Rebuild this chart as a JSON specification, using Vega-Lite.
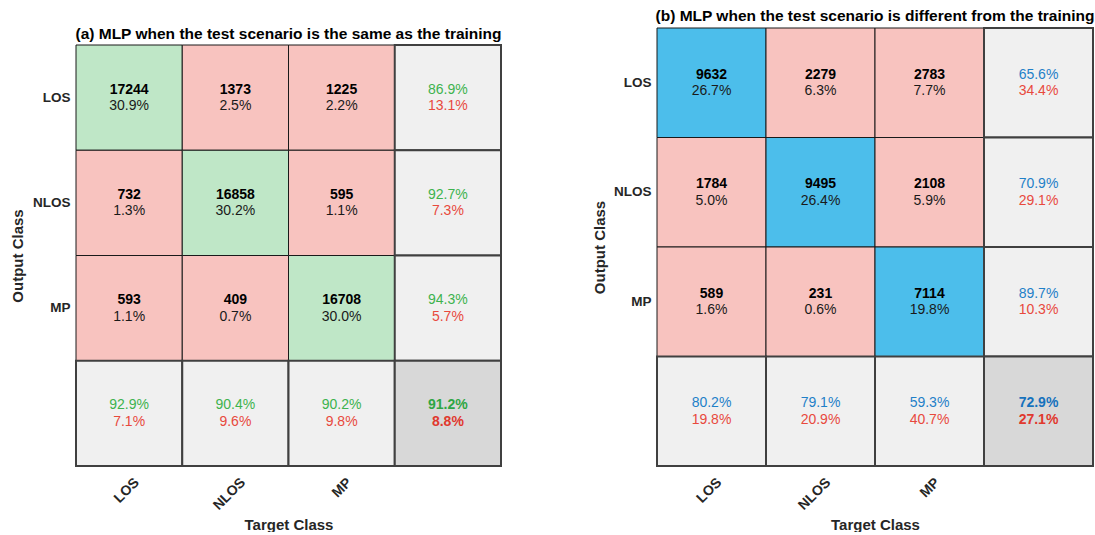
{
  "$schema": "https://vega.github.io/schema/vega-lite/v6.json",
  "padding": {"left": 10, "top": 8, "right": 0, "bottom": 0},
  "autosize": {"type": "pad"},
  "spacing": 156,
  "bounds": "flush",
  "resolve": {"scale": {"fill": "independent"}},
  "config": {
    "view": {"stroke": null},
    "font": "Liberation Sans",
    "axis": {"labelFont": "Liberation Sans", "titleFont": "Liberation Sans"},
    "title": {"font": "Liberation Sans"}
  },
  "hconcat": [
    {
      "width": 425,
      "height": 438,
      "title": {"text": "(a) MLP when the test scenario is the same as the training", "fontSize": 15.5, "fontWeight": "bold", "anchor": "middle", "offset": 3, "dy": 17, "color": "#000000"},
      "data": {"values": [
        {"row": "LOS", "col": "LOS", "kind": "correct", "line1": "17244", "line2": "30.9%"},
        {"row": "LOS", "col": "NLOS", "kind": "error", "line1": "1373", "line2": "2.5%"},
        {"row": "LOS", "col": "MP", "kind": "error", "line1": "1225", "line2": "2.2%"},
        {"row": "LOS", "col": "All", "kind": "summary", "line1": "86.9%", "line2": "13.1%"},
        {"row": "NLOS", "col": "LOS", "kind": "error", "line1": "732", "line2": "1.3%"},
        {"row": "NLOS", "col": "NLOS", "kind": "correct", "line1": "16858", "line2": "30.2%"},
        {"row": "NLOS", "col": "MP", "kind": "error", "line1": "595", "line2": "1.1%"},
        {"row": "NLOS", "col": "All", "kind": "summary", "line1": "92.7%", "line2": "7.3%"},
        {"row": "MP", "col": "LOS", "kind": "error", "line1": "593", "line2": "1.1%"},
        {"row": "MP", "col": "NLOS", "kind": "error", "line1": "409", "line2": "0.7%"},
        {"row": "MP", "col": "MP", "kind": "correct", "line1": "16708", "line2": "30.0%"},
        {"row": "MP", "col": "All", "kind": "summary", "line1": "94.3%", "line2": "5.7%"},
        {"row": "All", "col": "LOS", "kind": "summary", "line1": "92.9%", "line2": "7.1%"},
        {"row": "All", "col": "NLOS", "kind": "summary", "line1": "90.4%", "line2": "9.6%"},
        {"row": "All", "col": "MP", "kind": "summary", "line1": "90.2%", "line2": "9.8%"},
        {"row": "All", "col": "All", "kind": "total", "line1": "91.2%", "line2": "8.8%"}
      ]},
      "encoding": {
        "x": {"field": "col", "type": "nominal", "sort": ["LOS", "NLOS", "MP", "All"],
              "scale": {"paddingInner": 0, "paddingOuter": 0},
              "axis": {"title": "Target Class", "titleFontSize": 15, "titleFontWeight": "bold", "titleColor": "#262626", "titleY": 51,
                       "labelAngle": -45, "labelFontSize": 14, "labelFontWeight": "bold", "labelColor": "#262626", "labelPadding": 9, "labelOffset": 3,
                       "domain": false, "ticks": false, "labelExpr": "datum.value == 'All' ? '' : datum.value"}},
        "y": {"field": "row", "type": "nominal", "sort": ["LOS", "NLOS", "MP", "All"],
              "scale": {"paddingInner": 0, "paddingOuter": 0.0808, "align": 1},
              "axis": {"title": "Output Class", "titleFontSize": 15, "titleFontWeight": "bold", "titleColor": "#262626", "titleX": -51, "titleY": 227.5,
                       "labelFontSize": 13.5, "labelFontWeight": "bold", "labelColor": "#262626", "labelPadding": 6,
                       "domain": false, "ticks": false, "labelExpr": "datum.value == 'All' ? '' : datum.value"}}
      },
      "layer": [
        {"transform": [{"filter": "datum.kind == 'correct' || datum.kind == 'error'"}],
         "mark": {"type": "rect", "stroke": "#1a1a1a", "strokeWidth": 1},
         "encoding": {"fill": {"field": "kind", "type": "nominal", "legend": null,
                      "scale": {"domain": ["correct", "error", "summary", "total"], "range": ["#BFE7C7", "#F8C3BF", "#F0F0F0", "#D8D8D8"]}}}},
        {"transform": [{"filter": "datum.kind == 'summary' || datum.kind == 'total'"}],
         "mark": {"type": "rect", "stroke": "#404040", "strokeWidth": 2},
         "encoding": {"fill": {"field": "kind", "type": "nominal", "legend": null,
                      "scale": {"domain": ["correct", "error", "summary", "total"], "range": ["#BFE7C7", "#F8C3BF", "#F0F0F0", "#D8D8D8"]}}}},
        {"transform": [{"filter": "datum.kind == 'correct' || datum.kind == 'error'"}],
         "mark": {"type": "text", "fontSize": 14, "fontWeight": "bold", "color": "#000000", "dy": -8},
         "encoding": {"text": {"field": "line1"}}},
        {"transform": [{"filter": "datum.kind == 'correct' || datum.kind == 'error'"}],
         "mark": {"type": "text", "fontSize": 14, "color": "#1a1a1a", "dy": 8.5},
         "encoding": {"text": {"field": "line2"}}},
        {"transform": [{"filter": "datum.kind == 'summary'"}],
         "mark": {"type": "text", "fontSize": 14, "color": "#3DB34E", "dy": -8},
         "encoding": {"text": {"field": "line1"}}},
        {"transform": [{"filter": "datum.kind == 'summary'"}],
         "mark": {"type": "text", "fontSize": 14, "color": "#E8493D", "dy": 8.5},
         "encoding": {"text": {"field": "line2"}}},
        {"transform": [{"filter": "datum.kind == 'total'"}],
         "mark": {"type": "text", "fontSize": 14, "fontWeight": "bold", "color": "#2EA644", "dy": -8},
         "encoding": {"text": {"field": "line1"}}},
        {"transform": [{"filter": "datum.kind == 'total'"}],
         "mark": {"type": "text", "fontSize": 14, "fontWeight": "bold", "color": "#E0392E", "dy": 8.5},
         "encoding": {"text": {"field": "line2"}}}
      ]
    },
    {
      "width": 436,
      "height": 438,
      "title": {"text": "(b) MLP when the test scenario is different from the training", "fontSize": 15.5, "fontWeight": "bold", "anchor": "middle", "offset": 3, "color": "#000000"},
      "data": {"values": [
        {"row": "LOS", "col": "LOS", "kind": "correct", "line1": "9632", "line2": "26.7%"},
        {"row": "LOS", "col": "NLOS", "kind": "error", "line1": "2279", "line2": "6.3%"},
        {"row": "LOS", "col": "MP", "kind": "error", "line1": "2783", "line2": "7.7%"},
        {"row": "LOS", "col": "All", "kind": "summary", "line1": "65.6%", "line2": "34.4%"},
        {"row": "NLOS", "col": "LOS", "kind": "error", "line1": "1784", "line2": "5.0%"},
        {"row": "NLOS", "col": "NLOS", "kind": "correct", "line1": "9495", "line2": "26.4%"},
        {"row": "NLOS", "col": "MP", "kind": "error", "line1": "2108", "line2": "5.9%"},
        {"row": "NLOS", "col": "All", "kind": "summary", "line1": "70.9%", "line2": "29.1%"},
        {"row": "MP", "col": "LOS", "kind": "error", "line1": "589", "line2": "1.6%"},
        {"row": "MP", "col": "NLOS", "kind": "error", "line1": "231", "line2": "0.6%"},
        {"row": "MP", "col": "MP", "kind": "correct", "line1": "7114", "line2": "19.8%"},
        {"row": "MP", "col": "All", "kind": "summary", "line1": "89.7%", "line2": "10.3%"},
        {"row": "All", "col": "LOS", "kind": "summary", "line1": "80.2%", "line2": "19.8%"},
        {"row": "All", "col": "NLOS", "kind": "summary", "line1": "79.1%", "line2": "20.9%"},
        {"row": "All", "col": "MP", "kind": "summary", "line1": "59.3%", "line2": "40.7%"},
        {"row": "All", "col": "All", "kind": "total", "line1": "72.9%", "line2": "27.1%"}
      ]},
      "encoding": {
        "x": {"field": "col", "type": "nominal", "sort": ["LOS", "NLOS", "MP", "All"],
              "scale": {"paddingInner": 0, "paddingOuter": 0},
              "axis": {"title": "Target Class", "titleFontSize": 15, "titleFontWeight": "bold", "titleColor": "#262626", "titleY": 51,
                       "labelAngle": -45, "labelFontSize": 14, "labelFontWeight": "bold", "labelColor": "#262626", "labelPadding": 9, "labelOffset": 3,
                       "domain": false, "ticks": false, "labelExpr": "datum.value == 'All' ? '' : datum.value"}},
        "y": {"field": "row", "type": "nominal", "sort": ["LOS", "NLOS", "MP", "All"],
              "scale": {"paddingInner": 0, "paddingOuter": 0},
              "axis": {"title": "Output Class", "titleFontSize": 15, "titleFontWeight": "bold", "titleColor": "#262626", "titleX": -50,
                       "labelFontSize": 13.5, "labelFontWeight": "bold", "labelColor": "#262626", "labelPadding": 6,
                       "domain": false, "ticks": false, "labelExpr": "datum.value == 'All' ? '' : datum.value"}}
      },
      "layer": [
        {"transform": [{"filter": "datum.kind == 'correct' || datum.kind == 'error'"}],
         "mark": {"type": "rect", "stroke": "#1a1a1a", "strokeWidth": 1},
         "encoding": {"fill": {"field": "kind", "type": "nominal", "legend": null,
                      "scale": {"domain": ["correct", "error", "summary", "total"], "range": ["#4CBEEB", "#F8C3BF", "#F0F0F0", "#D8D8D8"]}}}},
        {"transform": [{"filter": "datum.kind == 'summary' || datum.kind == 'total'"}],
         "mark": {"type": "rect", "stroke": "#404040", "strokeWidth": 2},
         "encoding": {"fill": {"field": "kind", "type": "nominal", "legend": null,
                      "scale": {"domain": ["correct", "error", "summary", "total"], "range": ["#4CBEEB", "#F8C3BF", "#F0F0F0", "#D8D8D8"]}}}},
        {"transform": [{"filter": "datum.kind == 'correct' || datum.kind == 'error'"}],
         "mark": {"type": "text", "fontSize": 14, "fontWeight": "bold", "color": "#000000", "dy": -8},
         "encoding": {"text": {"field": "line1"}}},
        {"transform": [{"filter": "datum.kind == 'correct' || datum.kind == 'error'"}],
         "mark": {"type": "text", "fontSize": 14, "color": "#1a1a1a", "dy": 8.5},
         "encoding": {"text": {"field": "line2"}}},
        {"transform": [{"filter": "datum.kind == 'summary'"}],
         "mark": {"type": "text", "fontSize": 14, "color": "#1F80C8", "dy": -8},
         "encoding": {"text": {"field": "line1"}}},
        {"transform": [{"filter": "datum.kind == 'summary'"}],
         "mark": {"type": "text", "fontSize": 14, "color": "#E8493D", "dy": 8.5},
         "encoding": {"text": {"field": "line2"}}},
        {"transform": [{"filter": "datum.kind == 'total'"}],
         "mark": {"type": "text", "fontSize": 14, "fontWeight": "bold", "color": "#1672BD", "dy": -8},
         "encoding": {"text": {"field": "line1"}}},
        {"transform": [{"filter": "datum.kind == 'total'"}],
         "mark": {"type": "text", "fontSize": 14, "fontWeight": "bold", "color": "#E0392E", "dy": 8.5},
         "encoding": {"text": {"field": "line2"}}}
      ]
    }
  ]
}
